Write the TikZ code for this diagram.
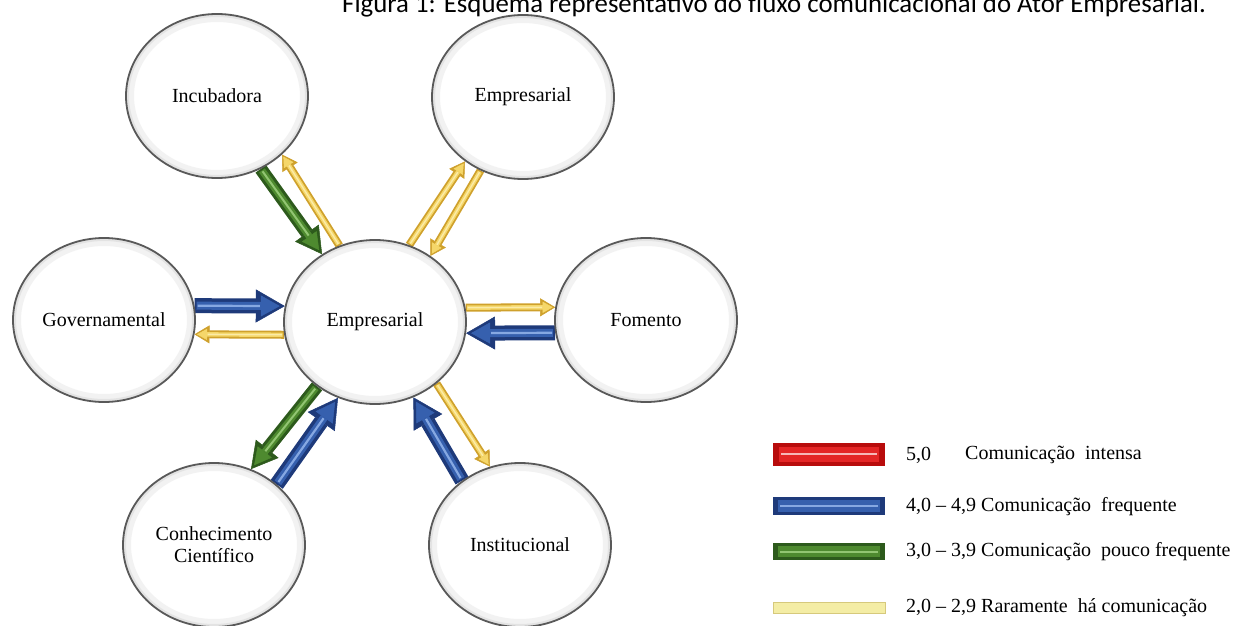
\documentclass[tikz,border=0pt]{standalone}
\usepackage{fontspec}
\setmainfont{Liberation Serif}
\newfontfamily\capfont{Carlito}
\usetikzlibrary{shapes.geometric, arrows.meta}
\pgfdeclarelayer{bg}
\pgfsetlayers{bg,main}
\definecolor{bdark}{HTML}{1E3A7A}
\definecolor{bmid}{HTML}{3660AE}
\definecolor{blight}{HTML}{86A8E2}
\definecolor{gdark}{HTML}{2D5A1C}
\definecolor{gmid}{HTML}{4E8A2F}
\definecolor{glight}{HTML}{92C572}
\definecolor{ydark}{HTML}{CFA12C}
\definecolor{ymid}{HTML}{F5D76A}
\definecolor{ylight}{HTML}{FBEBA8}
\definecolor{rdark}{HTML}{B80C0C}
\definecolor{rmid}{HTML}{E42626}
\definecolor{rlight}{HTML}{F6B8B8}
\definecolor{legyel}{HTML}{F4EDA5}
\definecolor{legyelb}{HTML}{D6C97C}
\newcommand{\flowarrow}[3]{%
  \draw[#1out] (#2) -- (#3);
  \draw[#1in] (#2) -- (#3);
  \draw[#1hi] (#2) -- (#3);}
\tikzset{
  bubble/.style={ellipse, minimum width=182pt, minimum height=164pt, inner sep=0pt,
    fill=white, draw=black!65, line width=1.8pt, align=center,
    font=\fontsize{20}{22}\selectfont,
    path picture={
      \draw[black!5, line width=16pt] (path picture bounding box.center) ellipse [x radius=91pt, y radius=82pt];
      \draw[black!11, line width=6pt] (path picture bounding box.center) ellipse [x radius=91pt, y radius=82pt];
    }},
  bout/.style={line width=15pt, draw=bdark, -{Triangle[width=33pt,length=29pt,line width=0.5pt]}},
  bin/.style={line width=8pt, draw=bmid, shorten <=2pt, shorten >=5pt, -{Triangle[width=21pt,length=19pt,line width=0.5pt]}},
  bhi/.style={line width=2.2pt, draw=blight, shorten <=3pt, shorten >=25pt},
  gout/.style={line width=13pt, draw=gdark, -{Triangle[width=29pt,length=26pt,line width=0.5pt]}},
  gin/.style={line width=7pt, draw=gmid, shorten <=2pt, shorten >=5pt, -{Triangle[width=18pt,length=17pt,line width=0.5pt]}},
  ghi/.style={line width=2pt, draw=glight, shorten <=3pt, shorten >=23pt},
  yout/.style={line width=8pt, draw=ydark, -{Triangle[width=18pt,length=15pt,line width=0.5pt]}},
  yin/.style={line width=4.4pt, draw=ymid, shorten <=1.5pt, shorten >=2.5pt, -{Triangle[width=11pt,length=10pt,line width=0.5pt]}},
  yhi/.style={line width=1.4pt, draw=ylight, shorten <=2pt, shorten >=13pt},
  legtext/.style={anchor=west, inner sep=0pt, font=\fontsize{20}{24}\selectfont}
}
\begin{document}
\begin{tikzpicture}[x=1pt,y=-1pt]
\useasboundingbox (0,0) rectangle (1240,626);
\begin{pgfonlayer}{bg}
\fill[white] (0,0) rectangle (1240,626);
\end{pgfonlayer}

% caption (cut off at the top)
\node[anchor=base west, inner sep=0pt, font=\capfont\fontsize{26.8}{30}\selectfont] (cap) at (342,13)
  {Figura 1: Esquema representativo do fluxo comunicacional do Ator Empresarial.};

% actors
\node[bubble] (inc) at (217,96) {Incubadora};
\node[bubble] (top) at (523,97) {Empresarial};
\node[bubble] (gov) at (104,320) {Governamental};
\node[bubble] (cen) at (375,322) {Empresarial};
\node[bubble] (fom) at (646,320) {Fomento};
\node[bubble] (con) at (214,545) {Conhecimento\\Científico};
\node[bubble] (ins) at (520,545) {Institucional};

% flows
\begin{pgfonlayer}{bg}
\flowarrow{g}{inc.-59}{cen.128}
\flowarrow{y}{cen.115}{inc.-42}
\flowarrow{y}{cen.66}{top.228}
\flowarrow{y}{top.240}{cen.50}
\flowarrow{b}{gov.9}{cen.170}
\flowarrow{y}{cen.188}{gov.351}
\flowarrow{y}{cen.9.5}{fom.172}
\flowarrow{b}{fom.188}{cen.-7}
\flowarrow{g}{cen.228}{con.64}
\flowarrow{b}{con.44.5}{cen.244}
\flowarrow{b}{ins.132}{cen.-63}
\flowarrow{y}{cen.-45.5}{ins.111}
\end{pgfonlayer}

% legend bars
\fill[rdark] (773,443) rectangle (885,466);
\fill[rmid] (779,447) rectangle (879,462);
\fill[rlight] (781,452.5) rectangle (877,455);
\fill[bdark] (773,497) rectangle (885,515);
\fill[bmid] (778,500) rectangle (880,512);
\fill[blight] (780,505) rectangle (878,507);
\fill[gdark] (773,543) rectangle (885,560);
\fill[gmid] (778,546) rectangle (880,557);
\fill[glight] (780,550.5) rectangle (878,552.5);
\filldraw[fill=legyel, draw=legyelb, line width=0.8pt] (773,602) rectangle (885,613);

% legend texts
\node[legtext] (l1a) at (906,455) {5,0};
\node[legtext] (l1b) at (965,455) {Comunicação\ \ intensa};
\node[legtext] (l2) at (906,507) {4,0 – 4,9 Comunicação\ \ frequente};
\node[legtext] (l3) at (906,552) {3,0 – 3,9 Comunicação\ \ pouco frequente};
\node[legtext] (l4) at (906,608) {2,0 – 2,9 Raramente\ \ há comunicação};
\end{tikzpicture}
\end{document}
